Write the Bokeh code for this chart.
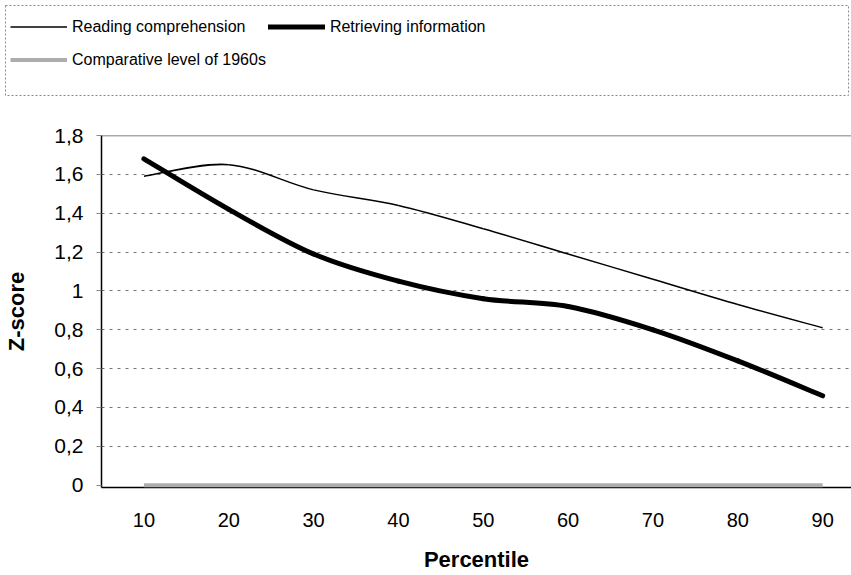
from bokeh.plotting import figure
from bokeh.models import Range1d, FixedTicker, Span, Legend, LegendItem
from bokeh.layouts import column
from bokeh.embed import file_html
from bokeh.resources import INLINE

# ---- data ----
percentiles = [10, 20, 30, 40, 50, 60, 70, 80, 90]
reading_comprehension = [1.59, 1.65, 1.52, 1.44, 1.32, 1.19, 1.06, 0.93, 0.81]
retrieving_information = [1.68, 1.42, 1.19, 1.05, 0.96, 0.92, 0.80, 0.64, 0.46]
level_1960s = [0, 0, 0, 0, 0, 0, 0, 0, 0]
y_ticks = [0, 0.2, 0.4, 0.6, 0.8, 1.0, 1.2, 1.4, 1.6, 1.8]
y_tick_labels = ["0", "0,2", "0,4", "0,6", "0,8", "1", "1,2", "1,4", "1,6", "1,8"]
series_names = ["Reading comprehension", "Retrieving information", "Comparative level of 1960s"]

FONT = "Liberation Sans"


def smooth_segments(xs, ys, t=1.0 / 6.0):
    """Bezier control points (Excel-like smoothing) between consecutive points."""
    n = len(xs)
    out = {k: [] for k in ("x0", "y0", "x1", "y1", "cx0", "cy0", "cx1", "cy1")}
    for i in range(n - 1):
        xp, yp = (xs[i - 1], ys[i - 1]) if i > 0 else (xs[i], ys[i])
        xn, yn = (xs[i + 2], ys[i + 2]) if i + 2 < n else (xs[i + 1], ys[i + 1])
        out["x0"].append(xs[i]); out["y0"].append(ys[i])
        out["x1"].append(xs[i + 1]); out["y1"].append(ys[i + 1])
        out["cx0"].append(xs[i] + (xs[i + 1] - xp) * t)
        out["cy0"].append(ys[i] + (ys[i + 1] - yp) * t)
        out["cx1"].append(xs[i + 1] - (xn - xs[i]) * t)
        out["cy1"].append(ys[i + 1] - (yn - ys[i]) * t)
    return out


# ---- legend box (top) ----
top = figure(width=851, height=97, output_backend="svg", toolbar_location=None,
             x_range=Range1d(0, 1), y_range=Range1d(0, 1),
             min_border_left=5, min_border_right=3, min_border_top=5, min_border_bottom=2)
top.frame_align = False
top.axis.visible = False
top.grid.visible = False
top.outline_line_color = "#888888"
top.outline_line_dash = "2 2"
top.outline_line_width = 1
# legend sample renderers (kept outside the visible range)
r1 = top.line([-5, -4], [-5, -4], line_color="black", line_width=1.5)
r2 = top.line([-5, -4], [-5, -4], line_color="black", line_width=5, line_cap="round")
r3 = top.line([-5, -4], [-5, -4], line_color="#adadad", line_width=4)
legend = Legend(items=[LegendItem(label=series_names[0], renderers=[r1]),
                       LegendItem(label=series_names[1], renderers=[r2]),
                       LegendItem(label=series_names[2], renderers=[r3])],
                location=(5, 20), orientation="horizontal", ncols=2,
                glyph_width=57, glyph_height=31, label_height=31,
                label_standoff=5, spacing=2, padding=5, margin=0,
                label_text_font=FONT, label_text_font_size="16px",
                label_text_color="black", border_line_color=None,
                background_fill_alpha=0)
top.add_layout(legend)

# ---- main chart ----
p = figure(width=851, height=477, output_backend="svg", toolbar_location=None,
           x_range=Range1d(5, 93.4), y_range=Range1d(-0.012, 1.8),
           min_border_left=101, min_border_right=0, min_border_top=38,
           min_border_bottom=86)
p.frame_align = False
p.outline_line_color = None

p.xaxis.ticker = FixedTicker(ticks=percentiles)
p.yaxis.ticker = FixedTicker(ticks=y_ticks)
p.yaxis.major_label_overrides = {t: l for t, l in zip(y_ticks, y_tick_labels)}
p.xaxis.major_label_overrides = {t: str(t) for t in percentiles}

for ax in (p.xaxis, p.yaxis):
    ax.axis_line_color = "black"
    ax.axis_line_width = 1.5
    ax.minor_tick_line_color = None
    ax.major_label_text_font = FONT
    ax.major_label_text_color = "black"
    ax.axis_label_text_font = FONT
    ax.axis_label_text_font_style = "bold"
    ax.axis_label_text_font_size = "22px"
    ax.axis_label_text_color = "black"

p.xaxis.major_label_text_font_size = "20px"
p.yaxis.major_label_text_font_size = "21px"

p.xaxis.major_tick_line_color = None
p.xaxis.major_tick_out = 0
p.xaxis.major_label_standoff = 25
p.xaxis.axis_label = "Percentile"
p.xaxis.axis_label_standoff = 17

p.yaxis.major_tick_in = 0
p.yaxis.major_tick_out = 5
p.yaxis.major_tick_line_color = "#888888"
p.yaxis.major_label_standoff = 13
p.yaxis.axis_label = "Z-score"
p.yaxis.axis_label_standoff = 22

p.xgrid.visible = False
p.ygrid.ticker = FixedTicker(ticks=y_ticks[1:-1])
p.ygrid.grid_line_color = "#777777"
p.ygrid.grid_line_dash = "3 5"
p.ygrid.grid_line_width = 1

p.add_layout(Span(location=y_ticks[-1], dimension="width", line_color="#555555", line_width=1.5))

# comparative level line at 0
base = p.line(percentiles, level_1960s, line_color="#adadad", line_width=4)
base.level = "overlay"

rc = smooth_segments(percentiles, reading_comprehension)
p.bezier(x0=rc["x0"], y0=rc["y0"], x1=rc["x1"], y1=rc["y1"],
         cx0=rc["cx0"], cy0=rc["cy0"], cx1=rc["cx1"], cy1=rc["cy1"],
         line_color="black", line_width=1.5)

ri = smooth_segments(percentiles, retrieving_information)
p.bezier(x0=ri["x0"], y0=ri["y0"], x1=ri["x1"], y1=ri["y1"],
         cx0=ri["cx0"], cy0=ri["cy0"], cx1=ri["cx1"], cy1=ri["cy1"],
         line_color="black", line_width=5, line_cap="round")

layout = column(top, p, spacing=0)
open("out.html", "w").write(file_html(layout, INLINE))
